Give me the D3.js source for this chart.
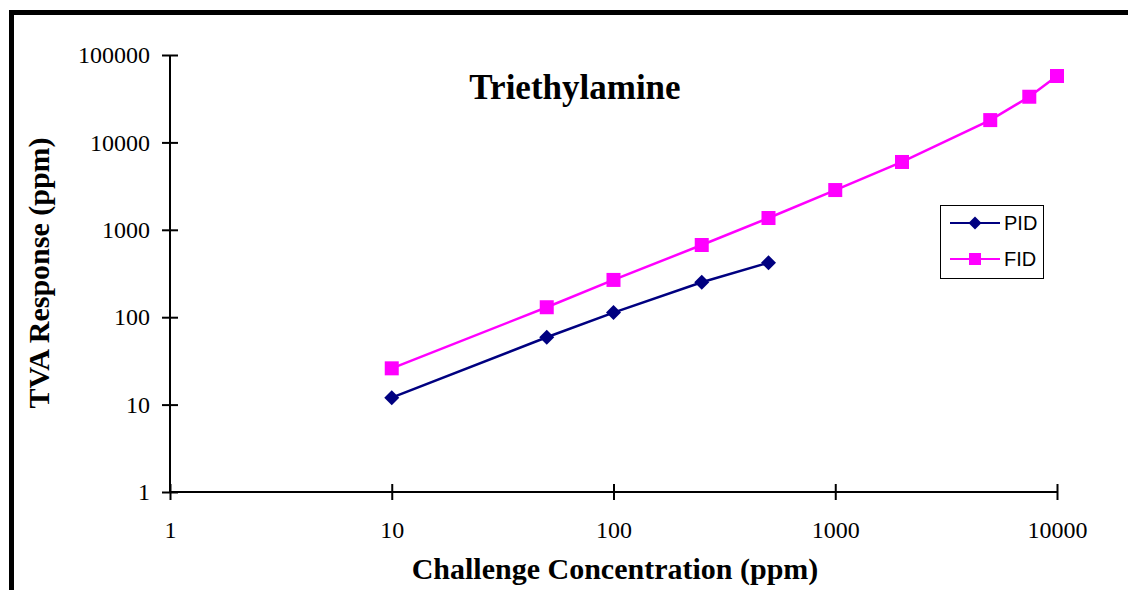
<!DOCTYPE html>
<html><head><meta charset="utf-8">
<script src="https://cdn.jsdelivr.net/npm/d3@7"></script>
<style>body{margin:0;background:#fff}</style>
</head><body>
<svg id="c" width="1128" height="590"></svg>
<script>
const xTicks = [1, 10, 100, 1000, 10000];
const yTicks = [1, 10, 100, 1000, 10000, 100000];
const pidX = [10, 50, 100, 250, 500];
const pidY = [12, 59, 113, 251, 420];
const fidX = [10, 50, 100, 250, 500, 1000, 2000, 5000, 7500, 10000];
const fidY = [26, 130, 267, 670, 1364, 2850, 5970, 18000, 33300, 57500];
const seriesNames = ["PID", "FID"];
const titleText = "Triethylamine";
const xTitle = "Challenge Concentration (ppm)";
const yTitle = "TVA Response (ppm)";

const svg = d3.select("#c");
const serif = "'Liberation Serif','Times New Roman',serif";
// frame
svg.append("line").attr("x1",11.5).attr("x2",11.5).attr("y1",10).attr("y2",590).attr("stroke","#000").attr("stroke-width",5);
svg.append("line").attr("x1",9).attr("x2",1128).attr("y1",12.5).attr("y2",12.5).attr("stroke","#000").attr("stroke-width",5);

const x = d3.scaleLog().domain([1,10000]).range([170,1057]);
const y = d3.scaleLog().domain([1,100000]).range([492,55]);

const xAxis = svg.append("g").attr("transform","translate(0,492)")
  .call(d3.axisBottom(x).tickValues(xTicks).tickFormat(d3.format("d")).tickSize(8).tickPadding(21));
xAxis.select(".domain").attr("stroke","#000").attr("stroke-width",2).attr("d","M170,0H1057");
xAxis.selectAll(".tick line").attr("y1",-8).attr("y2",8).attr("stroke-width",2);
xAxis.selectAll("text").attr("font-family",serif).attr("font-size",24).attr("fill","#000");

const yAxis = svg.append("g").attr("transform","translate(170,0)")
  .call(d3.axisLeft(y).tickValues(yTicks).tickFormat(d3.format("d")).tickSize(8).tickPadding(12));
yAxis.select(".domain").attr("stroke","#000").attr("stroke-width",2).attr("d","M0,492V55");
yAxis.selectAll(".tick line").attr("x1",-8).attr("x2",8).attr("stroke-width",2);
yAxis.selectAll("text").attr("font-family",serif).attr("font-size",24).attr("fill","#000");

const line = d3.line().x(d=>x(d[0])).y(d=>y(d[1]));
const pid = pidX.map((v,i)=>[v,pidY[i]]);
const fid = fidX.map((v,i)=>[v,fidY[i]]);
const navy = "#000080", mag = "#ff00ff";

svg.append("path").datum(fid).attr("d",line).attr("fill","none").attr("stroke",mag).attr("stroke-width",2.5);
svg.append("path").datum(pid).attr("d",line).attr("fill","none").attr("stroke",navy).attr("stroke-width",2.5);
svg.selectAll(".fm").data(fid).enter().append("rect")
  .attr("x",d=>x(d[0])-7).attr("y",d=>y(d[1])-7).attr("width",14).attr("height",14).attr("fill",mag);
svg.selectAll(".pm").data(pid).enter().append("path")
  .attr("d",d=>{const cx=x(d[0]),cy=y(d[1]);return `M${cx},${cy-7.5}L${cx+7.5},${cy}L${cx},${cy+7.5}L${cx-7.5},${cy}Z`;})
  .attr("fill",navy);

// titles
svg.append("text").attr("x",575).attr("y",99).attr("text-anchor","middle")
  .attr("font-family",serif).attr("font-weight","bold").attr("font-size",35).text(titleText);
svg.append("text").attr("x",615).attr("y",579).attr("text-anchor","middle")
  .attr("font-family",serif).attr("font-weight","bold").attr("font-size",30).text(xTitle);
svg.append("text").attr("transform","translate(49,273) rotate(-90)").attr("text-anchor","middle")
  .attr("font-family",serif).attr("font-weight","bold").attr("font-size",30).text(yTitle);

// legend
const lg = svg.append("g");
lg.append("rect").attr("x",940.5).attr("y",205.5).attr("width",103).attr("height",73).attr("fill","#fff").attr("stroke","#000").attr("stroke-width",1);
const colors = [navy, mag];
seriesNames.forEach((n,i)=>{
  const cy = 223 + i*36;
  lg.append("line").attr("x1",950).attr("x2",1000).attr("y1",cy).attr("y2",cy).attr("stroke",colors[i]).attr("stroke-width",2);
  if(i===0){
    lg.append("path").attr("d",`M975,${cy-6.5}L981.5,${cy}L975,${cy+6.5}L968.5,${cy}Z`).attr("fill",navy);
  } else {
    lg.append("rect").attr("x",969).attr("y",cy-6).attr("width",12).attr("height",12).attr("fill",mag);
  }
  lg.append("text").attr("x",1004).attr("y",cy+7).attr("font-family","'Liberation Sans',Arial,sans-serif").attr("font-size",20).text(n);
});
</script>
</body></html>
